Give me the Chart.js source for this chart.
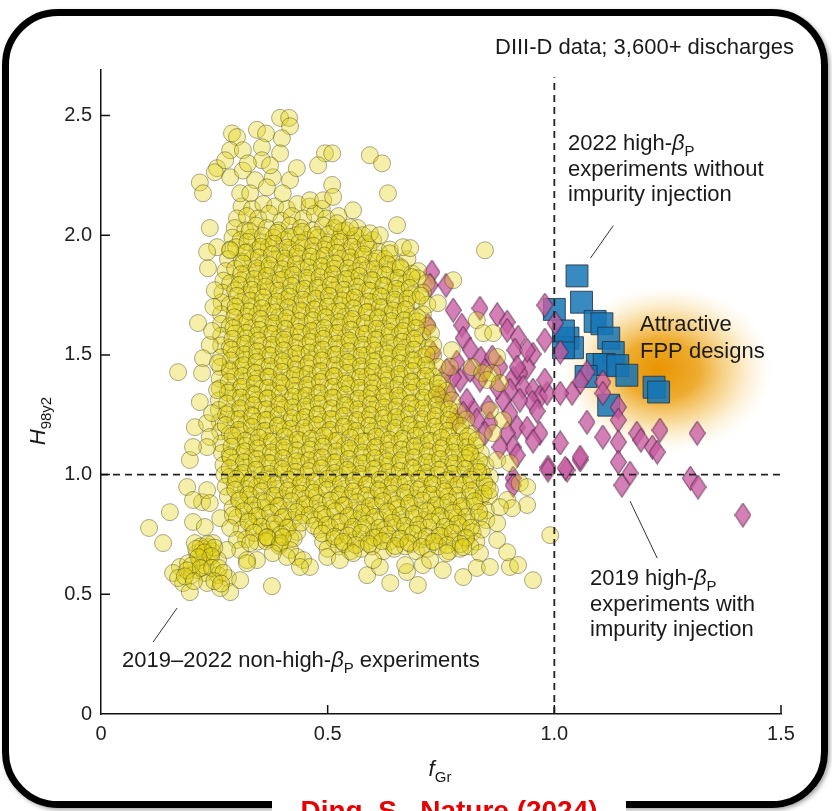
<!DOCTYPE html>
<html>
<head>
<meta charset="utf-8">
<script src="https://cdn.jsdelivr.net/npm/chart.js@4.4.1/dist/chart.umd.min.js"></script>
<style>
  html, body { margin: 0; padding: 0; background: #fff; }
  #wrap { position: relative; width: 832px; height: 811px; overflow: hidden; }
  #plot { position: absolute; left: 0; top: 0; }
  #frame {
    position: absolute; left: 2px; top: 9px; width: 826px; height: 799px;
    box-sizing: border-box; border: 7px solid #000; border-radius: 56px;
    box-shadow: 2px 2px 4px rgba(0, 0, 0, 0.35); pointer-events: none;
  }
  #cite {
    position: absolute; left: 272px; top: 797px; width: 354px; height: 40px;
    background: #fff; color: #e60000; text-align: center;
    font: bold 28px 'Liberation Sans', Arial, sans-serif; line-height: 28px;
  }
</style>
</head>
<body>
<div id="wrap">
  <canvas id="plot" width="832" height="811"></canvas>
  <div id="frame"></div>
  <div id="cite">Ding, S., Nature (2024)</div>
</div>
<script>
const FONT = "'Liberation Sans', Arial, sans-serif";

const xTicks = [0, 0.5, 1.0, 1.5];
const yTicks = [0, 0.5, 1.0, 1.5, 2.0, 2.5];
const fGrMark = 1.0;
const hMark = 1.0;

// 2019-2022 non-high-betaP discharges: packed middle of the cloud, row by row
const nonHighCore = [
  [.31,2.12],[.333,2.11],[.358,2.13],[.384,2.12],[.41,2.11],[.433,2.13],[.46,2.12],[.487,2.11],
  [.30,2.07],[.322,2.08],[.347,2.07],[.371,2.09],[.398,2.06],[.421,2.08],[.446,2.07],[.472,2.09],[.497,2.07],[.524,2.08],
  [.295,2.03],[.318,2.02],[.342,2.04],[.366,2.03],[.392,2.02],[.417,2.04],[.441,2.03],[.466,2.02],[.49,2.04],[.515,2.03],[.54,2.02],[.566,2.03],
  [.29,1.99],[.308,1.98],[.332,1.99],[.357,1.97],[.381,1.99],[.405,1.98],[.43,2.00],[.454,1.98],[.479,1.99],[.503,1.97],[.528,1.99],[.553,1.98],[.577,2.00],[.60,1.98],
  [.285,1.94],[.298,1.95],[.322,1.93],[.346,1.94],[.37,1.95],[.394,1.93],[.419,1.94],[.443,1.95],[.467,1.93],[.492,1.94],[.516,1.95],[.54,1.93],[.565,1.94],[.59,1.95],[.613,1.93],[.637,1.94],
  [.28,1.90],[.31,1.89],[.334,1.90],[.358,1.88],[.383,1.90],[.407,1.89],[.431,1.91],[.456,1.89],[.48,1.90],[.504,1.88],[.528,1.90],[.553,1.89],[.577,1.91],[.601,1.89],[.626,1.90],[.65,1.88],[.676,1.90],
  [.275,1.85],[.296,1.86],[.32,1.84],[.345,1.85],[.369,1.86],[.393,1.84],[.418,1.85],[.442,1.86],[.466,1.84],[.49,1.85],[.515,1.86],[.539,1.84],[.563,1.85],[.588,1.86],[.612,1.84],[.637,1.85],[.661,1.86],[.686,1.84],[.70,1.85],
  [.27,1.81],[.285,1.80],[.309,1.81],[.333,1.79],[.357,1.81],[.382,1.80],[.406,1.82],[.43,1.80],[.455,1.81],[.479,1.79],[.503,1.81],[.527,1.80],[.552,1.82],[.576,1.80],[.60,1.81],[.625,1.79],[.649,1.81],[.673,1.80],[.698,1.82],[.718,1.80],
  [.268,1.76],[.296,1.77],[.32,1.75],[.345,1.76],[.369,1.77],[.394,1.75],[.418,1.76],[.442,1.77],[.466,1.75],[.491,1.76],[.515,1.77],[.539,1.75],[.564,1.76],[.588,1.77],[.612,1.75],[.637,1.76],[.661,1.77],[.685,1.75],[.71,1.76],
  [.266,1.72],[.284,1.71],[.308,1.72],[.333,1.70],[.357,1.72],[.381,1.71],[.406,1.73],[.43,1.71],[.454,1.72],[.479,1.70],[.503,1.72],[.527,1.71],[.551,1.73],[.576,1.71],[.60,1.72],[.624,1.70],[.649,1.72],[.673,1.71],[.697,1.73],[.72,1.71],
  [.265,1.67],[.296,1.68],[.32,1.66],[.345,1.67],[.369,1.68],[.393,1.66],[.418,1.67],[.442,1.68],[.466,1.66],[.49,1.67],[.515,1.68],[.539,1.66],[.563,1.67],[.588,1.68],[.612,1.66],[.636,1.67],[.661,1.68],[.685,1.66],[.71,1.67],
  [.265,1.63],[.284,1.62],[.308,1.63],[.332,1.61],[.357,1.63],[.381,1.62],[.405,1.64],[.43,1.62],[.454,1.63],[.478,1.61],[.503,1.63],[.527,1.62],[.551,1.64],[.575,1.62],[.60,1.63],[.624,1.61],[.648,1.63],[.673,1.62],[.697,1.64],[.72,1.62],
  [.265,1.58],[.296,1.59],[.32,1.57],[.344,1.58],[.369,1.59],[.393,1.57],[.417,1.58],[.442,1.59],[.466,1.57],[.49,1.58],[.514,1.59],[.539,1.57],[.563,1.58],[.587,1.59],[.612,1.57],[.636,1.58],[.66,1.59],[.685,1.57],[.709,1.58],[.728,1.59],
  [.265,1.54],[.284,1.53],[.308,1.54],[.332,1.52],[.356,1.54],[.381,1.53],[.405,1.55],[.429,1.53],[.454,1.54],[.478,1.52],[.502,1.54],[.527,1.53],[.551,1.55],[.575,1.53],[.599,1.54],[.624,1.52],[.648,1.54],[.672,1.53],[.697,1.55],[.721,1.53],[.733,1.54],
  [.265,1.49],[.296,1.50],[.32,1.48],[.344,1.49],[.368,1.50],[.393,1.48],[.417,1.49],[.441,1.50],[.466,1.48],[.49,1.49],[.514,1.50],[.538,1.48],[.563,1.49],[.587,1.50],[.611,1.48],[.636,1.49],[.66,1.50],[.684,1.48],[.709,1.49],[.733,1.50],
  [.263,1.45],[.284,1.44],[.308,1.45],[.332,1.43],[.356,1.45],[.381,1.44],[.405,1.46],[.429,1.44],[.453,1.45],[.478,1.43],[.502,1.45],[.526,1.44],[.551,1.46],[.575,1.44],[.599,1.45],[.623,1.43],[.648,1.45],[.672,1.44],[.696,1.46],[.721,1.44],[.742,1.45],
  [.262,1.40],[.296,1.41],[.32,1.39],[.344,1.40],[.368,1.41],[.393,1.39],[.417,1.40],[.441,1.41],[.465,1.39],[.49,1.40],[.514,1.41],[.538,1.39],[.562,1.40],[.587,1.41],[.611,1.39],[.635,1.40],[.66,1.41],[.684,1.39],[.708,1.40],[.733,1.41],[.752,1.39],
  [.262,1.36],[.284,1.35],[.308,1.36],[.332,1.34],[.356,1.36],[.38,1.35],[.405,1.37],[.429,1.35],[.453,1.36],[.477,1.34],[.502,1.36],[.526,1.35],[.55,1.37],[.575,1.35],[.599,1.36],[.623,1.34],[.647,1.36],[.672,1.35],[.696,1.37],[.72,1.35],[.745,1.36],[.763,1.35],
  [.26,1.31],[.296,1.32],[.32,1.30],[.344,1.31],[.368,1.32],[.392,1.30],[.417,1.31],[.441,1.32],[.465,1.30],[.489,1.31],[.514,1.32],[.538,1.30],[.562,1.31],[.587,1.32],[.611,1.30],[.635,1.31],[.659,1.32],[.684,1.30],[.708,1.31],[.732,1.32],[.757,1.30],[.774,1.31],
  [.26,1.27],[.284,1.26],[.308,1.27],[.332,1.25],[.356,1.27],[.38,1.26],[.405,1.28],[.429,1.26],[.453,1.27],[.477,1.25],[.501,1.27],[.526,1.26],[.55,1.28],[.574,1.26],[.599,1.27],[.623,1.25],[.647,1.27],[.671,1.26],[.696,1.28],[.72,1.26],[.744,1.27],[.768,1.25],[.788,1.26],
  [.262,1.22],[.296,1.23],[.32,1.21],[.344,1.22],[.368,1.23],[.392,1.21],[.416,1.22],[.441,1.23],[.465,1.21],[.489,1.22],[.513,1.23],[.538,1.21],[.562,1.22],[.586,1.23],[.61,1.21],[.635,1.22],[.659,1.23],[.683,1.21],[.708,1.22],[.732,1.23],[.756,1.21],[.78,1.22],[.806,1.23],
  [.263,1.18],[.284,1.17],[.308,1.18],[.332,1.16],[.356,1.18],[.38,1.17],[.404,1.19],[.429,1.17],[.453,1.18],[.477,1.16],[.501,1.18],[.525,1.17],[.55,1.19],[.574,1.17],[.598,1.18],[.622,1.16],[.647,1.18],[.671,1.17],[.695,1.19],[.719,1.17],[.744,1.18],[.768,1.16],[.792,1.18],[.816,1.17],
  [.265,1.13],[.296,1.14],[.32,1.12],[.344,1.13],[.368,1.14],[.392,1.12],[.416,1.13],[.44,1.14],[.465,1.12],[.489,1.13],[.513,1.14],[.537,1.12],[.562,1.13],[.586,1.14],[.61,1.12],[.634,1.13],[.659,1.14],[.683,1.12],[.707,1.13],[.731,1.14],[.756,1.12],[.78,1.13],[.804,1.14],[.826,1.12],
  [.267,1.09],[.284,1.08],[.308,1.09],[.332,1.07],[.356,1.09],[.38,1.08],[.404,1.10],[.428,1.08],[.453,1.09],[.477,1.07],[.501,1.09],[.525,1.08],[.549,1.10],[.574,1.08],[.598,1.09],[.622,1.07],[.646,1.09],[.671,1.08],[.695,1.10],[.719,1.08],[.743,1.09],[.768,1.07],[.792,1.09],[.816,1.08],[.838,1.09],
  [.27,1.04],[.296,1.05],[.32,1.03],[.344,1.04],[.368,1.05],[.392,1.03],[.416,1.04],[.44,1.05],[.464,1.03],[.489,1.04],[.513,1.05],[.537,1.03],[.561,1.04],[.586,1.05],[.61,1.03],[.634,1.04],[.658,1.05],[.683,1.03],[.707,1.04],[.731,1.05],[.755,1.03],[.78,1.04],[.804,1.05],[.828,1.03],[.848,1.04],
  [.272,1.00],[.284,.99],[.308,1.00],[.332,.98],[.356,1.00],[.38,.99],[.404,1.01],[.428,.99],[.452,1.00],[.477,.98],[.501,1.00],[.525,.99],[.549,1.01],[.573,.99],[.598,1.00],[.622,.98],[.646,1.00],[.67,.99],[.695,1.01],[.719,.99],[.743,1.00],[.767,.98],[.792,1.00],[.816,.99],[.84,1.01],[.858,.99],
  [.275,.95],[.296,.96],[.32,.94],[.344,.95],[.368,.96],[.392,.94],[.416,.95],[.44,.96],[.464,.94],[.488,.95],[.513,.96],[.537,.94],[.561,.95],[.585,.96],[.61,.94],[.634,.95],[.658,.96],[.682,.94],[.707,.95],[.731,.96],[.755,.94],[.779,.95],[.803,.96],[.828,.94],[.852,.95],
  [.28,.91],[.305,.90],[.33,.91],[.354,.89],[.378,.91],[.402,.90],[.426,.92],[.451,.90],[.475,.91],[.499,.89],[.523,.91],[.548,.90],[.572,.92],[.596,.90],[.62,.91],[.644,.89],[.669,.91],[.693,.90],[.717,.92],[.741,.90],[.766,.91],[.79,.89],[.814,.91],[.838,.90],[.856,.91],
  [.29,.86],[.316,.87],[.34,.85],[.364,.86],[.389,.87],[.413,.85],[.437,.86],[.461,.87],[.485,.85],[.51,.86],[.534,.87],[.558,.85],[.582,.86],[.607,.87],[.631,.85],[.655,.86],[.679,.87],[.703,.85],[.728,.86],[.752,.87],[.776,.85],[.80,.86],[.825,.87],[.849,.85],
  [.30,.82],[.326,.81],[.35,.82],[.374,.80],[.399,.82],[.423,.81],[.447,.83],[.471,.81],[.495,.82],[.52,.80],[.544,.82],[.568,.81],[.592,.83],[.616,.81],[.641,.82],[.665,.80],[.689,.82],[.713,.81],[.738,.83],[.762,.81],[.786,.82],[.81,.80],[.834,.82],[.85,.81],
  [.31,.77],[.336,.78],[.36,.76],[.385,.77],[.409,.78],[.433,.76],[.481,.77],[.505,.78],[.529,.76],[.553,.77],[.578,.78],[.602,.76],[.626,.77],[.65,.78],[.675,.76],[.699,.77],[.723,.78],[.747,.76],[.771,.77],[.796,.78],[.82,.76],[.84,.77],
  [.32,.73],[.345,.72],[.37,.73],[.394,.71],[.418,.73],[.49,.72],[.514,.73],[.538,.71],[.562,.73],[.587,.72],[.611,.74],[.635,.72],[.659,.73],[.684,.71],[.708,.73],[.732,.72],[.756,.74],[.781,.72],[.805,.73],[.828,.72],
  [.50,.69],[.525,.70],[.55,.68],[.574,.69],[.598,.70],[.623,.68],[.647,.69],[.671,.70],[.695,.68],[.72,.69],[.744,.70],[.768,.68],[.792,.69],[.815,.70]
];

// second pass through the core, between the rows above (edges left to the first pass)
const nonHighCoreMid = [
  [.328,2.017],[.357,1.997],[.388,2.01],[.415,1.993],[.444,2.014],[.474,2.001],[.503,2.005],[.531,2.017],[.561,1.997],
  [.323,1.972],[.352,1.952],[.381,1.965],[.411,1.948],[.438,1.969],[.468,1.956],[.497,1.96],[.526,1.972],[.554,1.952],[.584,1.965],
  [.318,1.927],[.348,1.907],[.377,1.92],[.405,1.903],[.434,1.924],[.463,1.911],[.493,1.915],[.521,1.927],[.55,1.907],[.579,1.92],[.609,1.903],[.637,1.924],
  [.313,1.882],[.343,1.862],[.372,1.875],[.40,1.858],[.43,1.879],[.458,1.866],[.487,1.87],[.517,1.882],[.545,1.862],[.574,1.875],[.603,1.858],[.632,1.879],[.661,1.866],
  [.309,1.837],[.338,1.817],[.366,1.83],[.396,1.813],[.424,1.834],[.454,1.821],[.482,1.825],[.511,1.837],[.541,1.817],[.57,1.83],[.598,1.813],[.627,1.834],[.656,1.821],[.685,1.825],
  [.305,1.792],[.333,1.772],[.363,1.785],[.391,1.768],[.42,1.789],[.449,1.776],[.478,1.78],[.507,1.792],[.536,1.772],[.565,1.785],[.594,1.768],[.623,1.789],[.651,1.776],[.681,1.78],
  [.30,1.747],[.33,1.727],[.358,1.74],[.388,1.723],[.416,1.744],[.445,1.731],[.474,1.735],[.503,1.747],[.532,1.727],[.56,1.74],[.59,1.723],[.618,1.744],[.648,1.731],[.676,1.735],[.705,1.747],
  [.297,1.702],[.326,1.682],[.355,1.695],[.384,1.678],[.413,1.699],[.441,1.686],[.47,1.69],[.50,1.702],[.528,1.682],[.557,1.695],[.586,1.678],[.615,1.699],[.644,1.686],[.672,1.69],
  [.294,1.657],[.323,1.637],[.352,1.65],[.38,1.633],[.41,1.654],[.438,1.641],[.467,1.645],[.496,1.657],[.525,1.637],[.554,1.65],[.582,1.633],[.611,1.654],[.64,1.641],[.669,1.645],[.698,1.657],
  [.292,1.612],[.32,1.592],[.349,1.605],[.378,1.588],[.407,1.609],[.436,1.596],[.464,1.60],[.493,1.612],[.522,1.592],[.551,1.605],[.58,1.588],[.608,1.609],[.637,1.596],[.666,1.60],[.695,1.612],
  [.29,1.567],[.318,1.547],[.347,1.56],[.376,1.543],[.404,1.564],[.433,1.551],[.462,1.555],[.491,1.567],[.52,1.547],[.548,1.56],[.577,1.543],[.606,1.564],[.635,1.551],[.664,1.555],[.692,1.567],
  [.288,1.522],[.316,1.502],[.345,1.515],[.374,1.498],[.403,1.519],[.431,1.506],[.46,1.51],[.489,1.522],[.518,1.502],[.546,1.515],[.575,1.498],[.604,1.519],[.633,1.506],[.662,1.51],[.69,1.522],[.718,1.502],
  [.286,1.477],[.314,1.457],[.343,1.47],[.372,1.453],[.401,1.474],[.43,1.461],[.458,1.465],[.487,1.477],[.516,1.457],[.545,1.47],[.573,1.453],[.602,1.474],[.631,1.461],[.66,1.465],[.689,1.477],[.717,1.457],
  [.284,1.432],[.312,1.412],[.341,1.425],[.37,1.408],[.399,1.429],[.428,1.416],[.456,1.42],[.485,1.432],[.514,1.412],[.543,1.425],[.572,1.408],[.60,1.429],[.629,1.416],[.658,1.42],[.687,1.432],[.716,1.412],
  [.282,1.387],[.31,1.367],[.339,1.38],[.368,1.363],[.397,1.384],[.426,1.371],[.455,1.375],[.483,1.387],[.512,1.367],[.541,1.38],[.57,1.363],[.599,1.384],[.627,1.371],[.656,1.375],[.685,1.387],[.714,1.367],[.743,1.38],
  [.28,1.342],[.309,1.322],[.338,1.335],[.367,1.318],[.395,1.339],[.424,1.326],[.453,1.33],[.482,1.342],[.511,1.322],[.539,1.335],[.568,1.318],[.597,1.339],[.626,1.326],[.655,1.33],[.684,1.342],[.712,1.322],[.741,1.335],
  [.278,1.297],[.307,1.277],[.336,1.29],[.365,1.273],[.394,1.294],[.423,1.281],[.451,1.285],[.48,1.297],[.509,1.277],[.538,1.29],[.567,1.273],[.595,1.294],[.624,1.281],[.653,1.285],[.682,1.297],[.711,1.277],[.74,1.29],[.768,1.273],
  [.276,1.252],[.305,1.232],[.334,1.245],[.363,1.228],[.392,1.249],[.421,1.236],[.45,1.24],[.478,1.252],[.507,1.232],[.536,1.245],[.565,1.228],[.594,1.249],[.623,1.236],[.651,1.24],[.68,1.252],[.709,1.232],[.738,1.245],[.767,1.228],
  [.275,1.207],[.304,1.187],[.333,1.20],[.362,1.183],[.39,1.204],[.419,1.191],[.448,1.195],[.477,1.207],[.506,1.187],[.535,1.20],[.563,1.183],[.592,1.204],[.621,1.191],[.65,1.195],[.679,1.207],[.708,1.187],[.736,1.20],[.765,1.183],[.794,1.204],
  [.29,1.162],[.319,1.142],[.348,1.155],[.377,1.138],[.405,1.159],[.434,1.146],[.463,1.15],[.492,1.162],[.521,1.142],[.55,1.155],[.578,1.138],[.607,1.159],[.636,1.146],[.665,1.15],[.694,1.162],[.723,1.142],[.751,1.155],[.78,1.138],[.809,1.159],
  [.288,1.117],[.317,1.097],[.346,1.11],[.375,1.093],[.404,1.114],[.432,1.101],[.461,1.105],[.49,1.117],[.519,1.097],[.548,1.11],[.577,1.093],[.605,1.114],[.634,1.101],[.663,1.105],[.692,1.117],[.721,1.097],[.75,1.11],[.778,1.093],[.807,1.114],
  [.286,1.072],[.315,1.052],[.344,1.065],[.373,1.048],[.402,1.069],[.431,1.056],[.459,1.06],[.488,1.072],[.517,1.052],[.546,1.065],[.575,1.048],[.604,1.069],[.632,1.056],[.661,1.06],[.69,1.072],[.719,1.052],[.748,1.065],[.777,1.048],[.805,1.069],[.834,1.056],
  [.284,1.027],[.313,1.007],[.342,1.02],[.371,1.003],[.40,1.024],[.429,1.011],[.458,1.015],[.486,1.027],[.515,1.007],[.544,1.02],[.573,1.003],[.602,1.024],[.631,1.011],[.659,1.015],[.688,1.027],[.717,1.007],[.746,1.02],[.775,1.003],[.804,1.024],[.832,1.011],
  [.298,.982],[.327,.962],[.356,.975],[.385,.958],[.414,.979],[.442,.966],[.471,.97],[.50,.982],[.529,.962],[.558,.975],[.587,.958],[.615,.979],[.644,.966],[.673,.97],[.702,.982],[.731,.962],[.76,.975],[.788,.958],[.817,.979],[.846,.966],
  [.296,.937],[.325,.917],[.354,.93],[.383,.913],[.412,.934],[.44,.921],[.469,.925],[.498,.937],[.527,.917],[.556,.93],[.585,.913],[.613,.934],[.642,.921],[.671,.925],[.70,.937],[.729,.917],[.758,.93],[.786,.913],[.815,.934],[.844,.921],
  [.305,.892],[.334,.872],[.363,.885],[.392,.868],[.42,.889],[.449,.876],[.478,.88],[.507,.892],[.536,.872],[.565,.885],[.593,.868],[.622,.889],[.651,.876],[.68,.88],[.709,.892],[.738,.872],[.766,.885],[.795,.868],[.824,.889],
  [.315,.847],[.344,.827],[.373,.84],[.402,.823],[.431,.844],[.46,.831],[.488,.835],[.517,.847],[.546,.827],[.575,.84],[.604,.823],[.633,.844],[.661,.831],[.69,.835],[.719,.847],[.748,.827],[.777,.84],[.806,.823],[.834,.844],
  [.325,.802],[.354,.782],[.383,.795],[.412,.778],[.441,.799],[.47,.786],[.498,.79],[.527,.802],[.556,.782],[.585,.795],[.614,.778],[.643,.799],[.671,.786],[.70,.79],[.729,.802],[.758,.782],[.787,.795],[.816,.778],
  [.338,.757],[.367,.737],[.396,.75],[.425,.733],[.488,.754],[.516,.741],[.545,.745],[.574,.757],[.603,.737],[.632,.75],[.66,.733],[.689,.754],[.718,.741],[.747,.745],[.776,.757],[.805,.737],
  [.364,.722],[.393,.702],[.534,.719],[.562,.706],[.591,.71],[.62,.722],[.649,.702],[.678,.715],[.707,.698],[.735,.719],[.764,.706],[.793,.71]
];

// looser points above the core
const nonHighUpper = [
  [.395,2.49],[.415,2.49],[.417,2.455],[.289,2.425],[.30,2.41],[.344,2.44],[.364,2.425],[.399,2.405],
  [.285,2.355],[.313,2.355],[.355,2.367],[.395,2.342],[.494,2.342],[.51,2.342],[.479,2.292],[.593,2.334],
  [.62,2.30],[.633,2.175],[.256,2.28],[.251,2.263],[.218,2.22],[.225,2.175],[.285,2.242],[.313,2.27],
  [.34,2.23],[.379,2.242],[.417,2.23],[.432,2.28],[.51,2.21],[.461,2.146],[.49,2.146],[.512,2.16],
  [.556,2.104],[.307,2.175],[.329,2.175],[.366,2.20],[.401,2.175],[.521,2.05],[.549,2.033],[.593,2.008],
  [.653,2.042],[.615,2.00],[.666,1.95],[.682,1.946],[.24,2.03],[.256,1.95],[.234,1.93],[.285,1.937],
  [.847,1.937],[.355,2.313],[.324,2.30],[.373,2.292],[.274,2.313]
];

// left flank
const nonHighLeft = [
  [.214,1.633],[.17,1.428],[.24,1.541],[.225,1.486],[.223,1.424],[.218,1.303],[.207,1.198],[.196,1.061],
  [.234,1.215],[.24,1.157],[.234,1.115],[.203,1.115],[.258,1.466],[.256,1.353],[.245,1.257],[.251,1.77],
  [.236,1.862],[.245,1.60],[.248,1.70]
];

// lower tail, bottom-left cluster included
const nonHighLower = [
  [.19,.948],[.223,.885],[.234,.935],[.203,.894],[.24,.881],[.152,.843],[.106,.777],[.137,.714],
  [.203,.802],[.229,.781],[.263,.818],[.291,.831],[.285,.777],[.30,.727],[.307,.685],[.329,.714],
  [.344,.643],[.322,.643],[.278,.685],[.236,.697],[.247,.714],[.24,.656],[.218,.643],[.258,.643],
  [.212,.601],[.229,.589],[.174,.614],[.159,.589],[.181,.547],[.196,.509],[.234,.547],[.258,.58],
  [.28,.568],[.285,.509],[.307,.559],[.263,.526],[.212,.672],[.192,.63],[.17,.568],[.207,.714],
  [.225,.69],[.245,.68],[.23,.62],[.20,.58],[.377,.534],[.322,.63],
  [.22,.70],[.235,.71],[.25,.695],[.21,.69],[.228,.675],[.243,.66],[.215,.655],[.20,.62],[.19,.60],
  [.22,.61],[.245,.61],[.26,.61],[.27,.59],[.185,.575],[.205,.555],[.25,.555],[.265,.545],
  [.395,.714],[.417,.685],[.432,.656],[.446,.643],[.461,.614],[.439,.614],[.41,.656],[.379,.672],
  [.401,.739],[.366,.739],[.587,.58],[.615,.614],[.638,.547],[.675,.593],[.699,.539],[.499,.656],
  [.527,.643],[.556,.672],[.60,.643],[.754,.601],[.71,.622],[.671,.622],[.726,.643],[.763,.672],
  [.836,.672],[.799,.697],[.829,.61],[.799,.572],[.858,.614]
];

// right flank, partly over the diamonds
const nonHighRight = [
  [.94,.873],[.896,.894],[.907,.86],[.991,.747],[.953,.559],[.902,.614],[.92,.622],[.896,.676],
  [.874,.727],[.874,.797],[.88,.864],[.924,.965],[.858,.935],[.94,.948],
  [.777,1.812],[.743,1.716],[.829,1.645],[.843,1.591],[.865,1.591],[.774,1.52],[.818,1.449],[.841,1.424],
  [.863,1.424],[.874,1.491],[.77,1.449],[.852,1.395],[.88,1.382],[.858,1.269],[.887,1.228],[.865,1.173],
  [.829,1.144],[.814,1.09],[.874,1.061],[.902,1.048]
];

// 2019 high-betaP with impurity injection (diamonds)
const highBp2019 = [
  [.730,1.846],[.726,1.791],[.761,1.791],[.777,1.687],[.836,1.695],[.874,1.668],[.896,1.637],[.896,1.603],
  [.920,1.574],[.913,1.520],[.796,1.624],[.799,1.570],[.814,1.524],[.838,1.486],[.785,1.470],[.721,1.624],
  [.732,1.507],[.979,1.708],[1.002,1.633],[.979,1.562],[.953,1.503],[1.013,1.512],[.940,1.449],[.924,1.424],
  [.909,1.403],[.902,1.353],[.931,1.365],[.953,1.353],[.968,1.324],[.984,1.340],[.951,1.303],[.962,1.265],
  [.924,1.311],[.887,1.311],[.874,1.365],[.902,1.257],[.918,1.198],[.940,1.194],[.968,1.173],[.953,1.140],
  [.896,1.173],[.909,1.115],[.918,1.081],[.986,1.031],[.854,1.282],[.858,1.215],[.821,1.269],[.807,1.311],
  [.792,1.395],[.777,1.407],[.763,1.436],[.836,1.395],[.847,1.436],[.880,1.449],[.918,1.449],[.863,1.491],
  [.880,1.115],[.847,1.173],[.829,1.228],[.799,1.257],[.770,1.332],[1.072,1.428],[1.057,1.386],[1.039,1.340],
  [1.013,1.340],[1.107,1.386],[1.107,1.340],[1.141,1.282],[1.141,1.228],[1.072,1.219],[1.107,1.157],[1.141,1.136],
  [1.182,1.173],[1.191,1.144],[1.216,1.115],[1.227,1.094],[1.233,1.186],[1.315,1.173],[1.013,1.132],[1.057,1.061],
  [1.028,1.019],[.986,1.019],[1.141,1.052],[1.149,.956],[1.167,1.006],[1.300,.985],[1.317,.948],[1.416,.831],
  [.909,.985],[.909,.956],[1.024,1.027],[1.057,1.073],[.814,1.436],[.748,1.332],[.781,1.228],[.979,1.395],[.940,1.520]
];

// 2022 high-betaP without impurity injection (squares)
const highBp2022 = [
  [1.05,1.83],[1.06,1.72],[1.00,1.69],[1.09,1.64],[1.105,1.63],[1.12,1.57],[1.03,1.57],[1.04,1.53],
  [1.02,1.53],[1.13,1.51],[1.095,1.46],[1.11,1.46],[1.14,1.455],[1.07,1.41],[1.16,1.415],[1.22,1.365],
  [1.23,1.345],[1.12,1.29],[1.02,1.60]
];

const toXY = arr => arr.map(([x, y]) => ({ x, y }));

// tall diamond marker
function diamondMarker() {
  const c = document.createElement('canvas');
  c.width = 17;
  c.height = 25;
  const g = c.getContext('2d');
  g.beginPath();
  g.moveTo(8.5, 0.5);
  g.lineTo(16.5, 12.5);
  g.lineTo(8.5, 24.5);
  g.lineTo(0.5, 12.5);
  g.closePath();
  g.fillStyle = 'rgba(200, 92, 162, 0.78)';
  g.fill();
  g.strokeStyle = 'rgba(70, 28, 60, 0.85)';
  g.lineWidth = 1;
  g.stroke();
  return c;
}

// text with italic / subscript pieces
function richWidth(ctx, parts, size) {
  let w = 0;
  parts.forEach(p => {
    const s = p.sub ? Math.round(size * 0.7) : size;
    ctx.font = (p.italic ? 'italic ' : '') + s + 'px ' + FONT;
    w += ctx.measureText(p.t).width;
  });
  return w;
}

function richText(ctx, x, y, parts, size) {
  let cx = x;
  parts.forEach(p => {
    const s = p.sub ? Math.round(size * 0.7) : size;
    ctx.font = (p.italic ? 'italic ' : '') + s + 'px ' + FONT;
    ctx.fillText(p.t, cx, y + (p.sub ? size * 0.26 : 0));
    cx += ctx.measureText(p.t).width;
  });
}

const beta = [{ t: '\u03B2', italic: true }, { t: 'P', sub: true }];
const notes = [
  { x: 495, y: 54, parts: [{ t: 'DIII-D data; 3,600+ discharges' }] },
  { x: 568, y: 150, parts: [{ t: '2022 high-' }, ...beta] },
  { x: 568, y: 176, parts: [{ t: 'experiments without' }] },
  { x: 568, y: 201, parts: [{ t: 'impurity injection' }] },
  { x: 640, y: 331, parts: [{ t: 'Attractive' }] },
  { x: 640, y: 358, parts: [{ t: 'FPP designs' }] },
  { x: 590, y: 585, parts: [{ t: '2019 high-' }, ...beta] },
  { x: 590, y: 611, parts: [{ t: 'experiments with' }] },
  { x: 590, y: 636, parts: [{ t: 'impurity injection' }] },
  { x: 122, y: 667, parts: [{ t: '2019\u20132022 non-high-' }, ...beta, { t: ' experiments' }] }
];

// leader lines, in data units
const leaders = [
  [[1.13, 2.04], [1.08, 1.905]],
  [[1.167, 0.889], [1.227, 0.651]],
  [[0.115, 0.301], [0.168, 0.443]]
];

const glow = {
  id: 'glow',
  beforeDatasetsDraw(chart) {
    const { ctx, scales: { x, y } } = chart;
    const cx = x.getPixelForValue(1.25);
    const cy = y.getPixelForValue(1.44);
    const rx = x.getPixelForValue(1.49) - cx;
    const ry = cy - y.getPixelForValue(1.80);
    ctx.save();
    ctx.translate(cx, cy);
    ctx.scale(1, ry / rx);
    const g = ctx.createRadialGradient(-10, 0, 0, 0, 0, rx);
    g.addColorStop(0, 'rgba(232, 148, 0, 1)');
    g.addColorStop(0.35, 'rgba(236, 160, 18, 0.88)');
    g.addColorStop(0.62, 'rgba(243, 190, 80, 0.55)');
    g.addColorStop(0.85, 'rgba(250, 222, 160, 0.22)');
    g.addColorStop(1, 'rgba(255, 255, 255, 0)');
    ctx.fillStyle = g;
    ctx.beginPath();
    ctx.arc(0, 0, rx, 0, Math.PI * 2);
    ctx.fill();
    ctx.restore();
  }
};

const overlay = {
  id: 'overlay',
  afterDatasetsDraw(chart) {
    const { ctx, chartArea: a, scales: { x, y } } = chart;
    ctx.save();

    // dashed reference lines
    ctx.strokeStyle = '#222';
    ctx.lineWidth = 1.8;
    ctx.setLineDash([7, 5]);
    ctx.beginPath();
    ctx.moveTo(x.getPixelForValue(fGrMark), y.getPixelForValue(0));
    ctx.lineTo(x.getPixelForValue(fGrMark), y.getPixelForValue(2.66));
    ctx.moveTo(x.getPixelForValue(0), y.getPixelForValue(hMark));
    ctx.lineTo(x.getPixelForValue(1.5), y.getPixelForValue(hMark));
    ctx.stroke();
    ctx.setLineDash([]);

    // inward tick marks
    ctx.strokeStyle = '#111';
    ctx.lineWidth = 1.5;
    ctx.beginPath();
    xTicks.forEach(v => {
      if (v === 0) return;
      const px = x.getPixelForValue(v);
      ctx.moveTo(px, a.bottom);
      ctx.lineTo(px, a.bottom - 9);
    });
    yTicks.forEach(v => {
      if (v === 0) return;
      const py = y.getPixelForValue(v);
      ctx.moveTo(a.left, py);
      ctx.lineTo(a.left + 9, py);
    });
    ctx.stroke();

    // leader lines
    ctx.strokeStyle = '#333';
    ctx.lineWidth = 1;
    ctx.beginPath();
    leaders.forEach(([p, q]) => {
      ctx.moveTo(x.getPixelForValue(p[0]), y.getPixelForValue(p[1]));
      ctx.lineTo(x.getPixelForValue(q[0]), y.getPixelForValue(q[1]));
    });
    ctx.stroke();

    // notes
    ctx.fillStyle = '#1a1a1a';
    ctx.textAlign = 'left';
    ctx.textBaseline = 'alphabetic';
    notes.forEach(n => richText(ctx, n.x, n.y, n.parts, 22));

    // axis titles
    const yTitle = [{ t: 'H', italic: true }, { t: '98y2', sub: true }];
    ctx.save();
    ctx.translate(38, 421);
    ctx.rotate(-Math.PI / 2);
    richText(ctx, -richWidth(ctx, yTitle, 22) / 2, 7, yTitle, 22);
    ctx.restore();

    const xTitle = [{ t: 'f', italic: true }, { t: 'Gr', sub: true }];
    richText(ctx, 440 - richWidth(ctx, xTitle, 22) / 2, 776, xTitle, 22);

    ctx.restore();
  }
};

const fmt = v => (v === 0 ? '0' : Number(v).toFixed(1));

new Chart(document.getElementById('plot'), {
  type: 'scatter',
  data: {
    datasets: [
      {
        label: '2019-2022 non-high-betaP',
        data: toXY([...nonHighCore, ...nonHighCoreMid, ...nonHighUpper, ...nonHighLeft, ...nonHighLower, ...nonHighRight]),
        pointRadius: 8.5,
        backgroundColor: 'rgba(226, 212, 20, 0.36)',
        borderColor: 'rgba(60, 58, 20, 0.42)',
        borderWidth: 1
      },
      {
        label: '2019 high-betaP',
        data: toXY(highBp2019),
        pointStyle: diamondMarker(),
        pointRadius: 12
      },
      {
        label: '2022 high-betaP',
        data: toXY(highBp2022),
        pointStyle: 'rect',
        pointRadius: 15.5,
        backgroundColor: 'rgba(22, 118, 182, 0.85)',
        borderColor: 'rgba(40, 52, 66, 0.85)',
        borderWidth: 1
      }
    ]
  },
  options: {
    responsive: false,
    animation: false,
    events: [],
    layout: { padding: { left: 41, right: 51, top: 70, bottom: 47 } },
    plugins: {
      legend: { display: false },
      tooltip: { enabled: false }
    },
    scales: {
      x: {
        type: 'linear',
        min: 0,
        max: 1.5,
        afterBuildTicks: s => { s.ticks = xTicks.map(v => ({ value: v })); },
        afterFit: s => { s.height = 50; },
        grid: { display: false, drawTicks: false },
        border: { color: '#111', width: 1.5 },
        ticks: {
          padding: 8,
          color: '#222',
          maxRotation: 0,
          autoSkip: false,
          font: { family: FONT, size: 20 },
          callback: fmt
        }
      },
      y: {
        type: 'linear',
        min: 0,
        max: 2.69,
        afterBuildTicks: s => { s.ticks = yTicks.map(v => ({ value: v })); },
        afterFit: s => { s.width = 60; },
        grid: { display: false, drawTicks: false },
        border: { color: '#111', width: 1.5 },
        ticks: {
          padding: 9,
          color: '#222',
          autoSkip: false,
          font: { family: FONT, size: 20 },
          callback: fmt
        }
      }
    }
  },
  plugins: [glow, overlay]
});
</script>
</body>
</html>
